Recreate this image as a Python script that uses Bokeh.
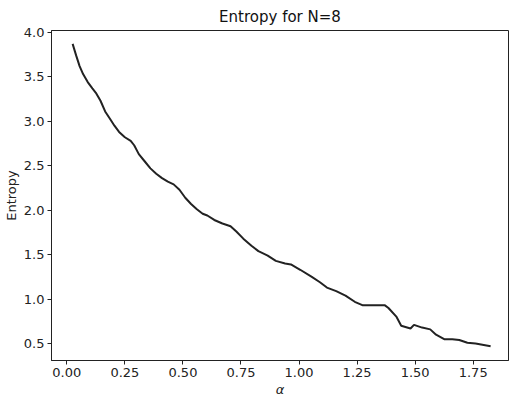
from bokeh.plotting import figure
from bokeh.models import FixedTicker, Range1d, NumeralTickFormatter
from bokeh.embed import file_html
from bokeh.resources import INLINE

alpha = [0.025, 0.04, 0.055, 0.07, 0.09, 0.11, 0.125, 0.145, 0.165, 0.185,
         0.205, 0.225, 0.25, 0.275, 0.29, 0.31, 0.335, 0.36, 0.385, 0.41,
         0.435, 0.46, 0.485, 0.51, 0.535, 0.56, 0.585, 0.605, 0.635, 0.67,
         0.705, 0.73, 0.76, 0.795, 0.825, 0.865, 0.9, 0.94, 0.965, 1.005,
         1.055, 1.09, 1.12, 1.16, 1.2, 1.24, 1.275, 1.37, 1.385, 1.42,
         1.44, 1.48, 1.495, 1.53, 1.565, 1.59, 1.625, 1.66, 1.69, 1.725,
         1.76, 1.825]
entropy = [3.87, 3.74, 3.62, 3.53, 3.44, 3.37, 3.32, 3.23, 3.11, 3.03,
           2.95, 2.88, 2.82, 2.78, 2.73, 2.63, 2.55, 2.47, 2.41, 2.36,
           2.32, 2.29, 2.23, 2.14, 2.07, 2.01, 1.96, 1.94, 1.89, 1.85,
           1.82, 1.76, 1.68, 1.60, 1.54, 1.49, 1.43, 1.40, 1.39, 1.33,
           1.25, 1.19, 1.13, 1.09, 1.04, 0.97, 0.93, 0.93, 0.90, 0.80,
           0.70, 0.67, 0.71, 0.68, 0.66, 0.60, 0.55, 0.55, 0.54, 0.51,
           0.50, 0.47]
x_ticks = [0.0, 0.25, 0.5, 0.75, 1.0, 1.25, 1.5, 1.75]
y_ticks = [0.5, 1.0, 1.5, 2.0, 2.5, 3.0, 3.5, 4.0]

FONT = "DejaVu Sans"

p = figure(width=509, height=399, output_backend="svg", toolbar_location=None,
           x_range=Range1d(-0.066, 1.902), y_range=Range1d(0.31, 4.02),
           title="Entropy for N=8", min_border_left=48, min_border_right=1,
           min_border_top=6, min_border_bottom=0)
p.line(alpha, entropy, line_color="#222222", line_width=2)

p.title.align = "center"
p.title.text_font = FONT
p.title.text_font_size = "15px"
p.title.text_font_style = "normal"
p.title.text_color = "#111111"

p.xgrid.visible = False
p.ygrid.visible = False
p.outline_line_color = "#222222"
p.outline_line_width = 1
p.background_fill_color = "white"
p.border_fill_color = "white"

p.xaxis.ticker = FixedTicker(ticks=x_ticks)
p.yaxis.ticker = FixedTicker(ticks=y_ticks)
p.xaxis.formatter = NumeralTickFormatter(format="0.00")
p.yaxis.formatter = NumeralTickFormatter(format="0.0")
p.xaxis.axis_label = "α"
p.yaxis.axis_label = "Entropy"
p.xaxis.axis_label_text_font_style = "italic"
p.yaxis.axis_label_text_font_style = "normal"

for ax in (p.xaxis, p.yaxis):
    ax.axis_line_color = "#222222"
    ax.major_tick_line_color = "#222222"
    ax.major_tick_out = 4
    ax.major_tick_in = 0
    ax.minor_tick_line_color = None
    ax.major_label_text_font = FONT
    ax.major_label_text_font_size = "13px"
    ax.major_label_text_color = "#222222"
    ax.axis_label_text_font = FONT
    ax.axis_label_text_font_size = "13px"
    ax.axis_label_text_color = "#222222"
    ax.axis_label_standoff = 2
    ax.major_label_standoff = 3

open("out.html", "w").write(file_html(p, INLINE))
